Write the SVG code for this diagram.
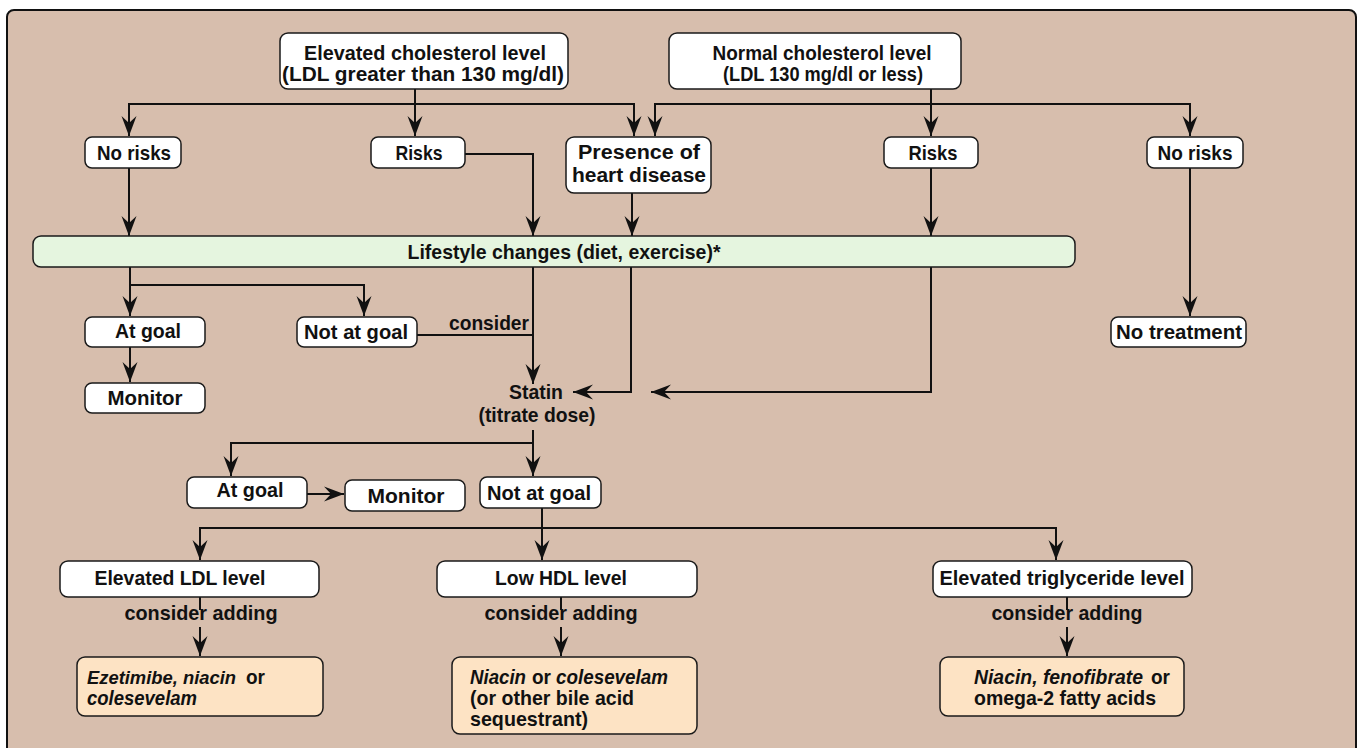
<svg xmlns="http://www.w3.org/2000/svg" width="1361" height="748" viewBox="0 0 1361 748">
<style>
text{font-family:"Liberation Sans Narrow","Liberation Sans",Arial,sans-serif;font-weight:bold;font-size:20.5px;fill:#111;}
.m{text-anchor:middle;}
.i{font-style:italic;}
.s{font-size:19.5px;}
.box{fill:#fff;stroke:#1a1a1a;stroke-width:1.5;}
.green{fill:#e5f5df;stroke:#1a1a1a;stroke-width:1.5;}
.orange{fill:#fde3c4;stroke:#1a1a1a;stroke-width:1.5;}
.c{fill:none;stroke:#111;stroke-width:2;}
.a{marker-end:url(#arr);}
</style>
<defs>
<marker id="arr" viewBox="-20 -9 21 18" refX="0" refY="0" markerWidth="21" markerHeight="18" markerUnits="userSpaceOnUse" orient="auto">
<path d="M0,0 L-20,-7.5 L-13,0 L-20,7.5 Z" fill="#111"/>
</marker>
</defs>
<rect x="7" y="10" width="1349" height="760" rx="7" fill="#d7bead" stroke="#111" stroke-width="2"/>
<g id="connectors">
<path class="c a" d="M415,89 V136"/>
<path class="c a" d="M415,104 H129 V136"/>
<path class="c a" d="M415,104 H634 V136"/>
<path class="c a" d="M931,89 V136"/>
<path class="c a" d="M931,104 H655 V136"/>
<path class="c a" d="M931,104 H1190 V136"/>
<path class="c a" d="M129,168 V236"/>
<path class="c a" d="M465,154 H533 V236"/>
<path class="c a" d="M632,193 V236"/>
<path class="c a" d="M931,168 V236"/>
<path class="c a" d="M1190,168 V316"/>
<path class="c a" d="M130,267 V316"/>
<path class="c a" d="M130,285 H364 V316"/>
<path class="c a" d="M130,347 V382"/>
<path class="c" d="M417,335 H533"/>
<path class="c a" d="M533,267 V384"/>
<path class="c a" d="M631,267 V392 H573"/>
<path class="c a" d="M931,267 V392 H651"/>
<path class="c a" d="M533,430 V476"/>
<path class="c a" d="M533,443 H231 V476"/>
<path class="c a" d="M307,494 H344"/>
<path class="c a" d="M542,508 V560"/>
<path class="c a" d="M542,528 H200 V560"/>
<path class="c a" d="M542,528 H1056 V560"/>
<path class="c" d="M200,597 V610"/>
<path class="c a" d="M200,627 V656"/>
<path class="c" d="M561,597 V610"/>
<path class="c a" d="M561,627 V656"/>
<path class="c" d="M1067,597 V610"/>
<path class="c a" d="M1067,627 V656"/>
</g>
<g id="elevated">
<rect class="box" x="280" y="33" width="288" height="56" rx="8"/>
<text class="m s" x="425" y="60" textLength="242" lengthAdjust="spacingAndGlyphs">Elevated cholesterol level</text>
<text class="m s" x="423" y="81" textLength="282" lengthAdjust="spacingAndGlyphs">(LDL greater than 130 mg/dl)</text>
</g>
<g id="normal">
<rect class="box" x="669" y="33" width="292" height="56" rx="8"/>
<text class="m s" x="822" y="60" textLength="219" lengthAdjust="spacingAndGlyphs">Normal cholesterol level</text>
<text class="m s" x="823" y="81" textLength="200" lengthAdjust="spacingAndGlyphs">(LDL 130 mg/dl or less)</text>
</g>
<g id="norisks1">
<rect class="box" x="85" y="137" width="96" height="31" rx="7"/>
<text class="m" x="134" y="160" textLength="74" lengthAdjust="spacingAndGlyphs">No risks</text>
</g>
<g id="risks1">
<rect class="box" x="371" y="137" width="94" height="31" rx="7"/>
<text class="m" x="419" y="160" textLength="47" lengthAdjust="spacingAndGlyphs">Risks</text>
</g>
<g id="heart">
<rect class="box" x="566" y="137" width="145" height="56" rx="8"/>
<text class="m s" x="639" y="159" textLength="122" lengthAdjust="spacingAndGlyphs">Presence of</text>
<text class="m s" x="639" y="182" textLength="134" lengthAdjust="spacingAndGlyphs">heart disease</text>
</g>
<g id="risks2">
<rect class="box" x="884" y="137" width="94" height="31" rx="7"/>
<text class="m" x="933" y="160" textLength="49" lengthAdjust="spacingAndGlyphs">Risks</text>
</g>
<g id="norisks2">
<rect class="box" x="1147" y="137" width="96" height="31" rx="7"/>
<text class="m" x="1195" y="160" textLength="75" lengthAdjust="spacingAndGlyphs">No risks</text>
</g>
<g id="lifestyle">
<rect class="green" x="33" y="236" width="1042" height="31" rx="8"/>
<text class="m" x="564" y="259" textLength="313" lengthAdjust="spacingAndGlyphs">Lifestyle changes (diet, exercise)*</text>
</g>
<g id="atgoal1">
<rect class="box" x="85" y="317" width="120" height="30" rx="7"/>
<text class="m" x="148" y="338" textLength="66" lengthAdjust="spacingAndGlyphs">At goal</text>
</g>
<g id="notatgoal1">
<rect class="box" x="297" y="317" width="120" height="30" rx="7"/>
<text class="m" x="356" y="339" textLength="104" lengthAdjust="spacingAndGlyphs">Not at goal</text>
</g>
<text id="consider" x="449" y="330" textLength="80" lengthAdjust="spacingAndGlyphs">consider</text>
<g id="monitor1">
<rect class="box" x="85" y="383" width="120" height="30" rx="7"/>
<text class="m" x="145" y="405" textLength="75" lengthAdjust="spacingAndGlyphs">Monitor</text>
</g>
<g id="notreatment">
<rect class="box" x="1111" y="317" width="135" height="30" rx="7"/>
<text class="m" x="1179" y="339" textLength="126" lengthAdjust="spacingAndGlyphs">No treatment</text>
</g>
<g id="statin">
<text class="m" x="536" y="399" textLength="54" lengthAdjust="spacingAndGlyphs">Statin</text>
<text class="m" x="537" y="422" textLength="117" lengthAdjust="spacingAndGlyphs">(titrate dose)</text>
</g>
<g id="atgoal2">
<rect class="box" x="187" y="477" width="120" height="31" rx="7"/>
<text class="m" x="250" y="497" textLength="67" lengthAdjust="spacingAndGlyphs">At goal</text>
</g>
<g id="monitor2">
<rect class="box" x="345" y="480" width="120" height="31" rx="7"/>
<text class="m" x="406" y="503" textLength="77" lengthAdjust="spacingAndGlyphs">Monitor</text>
</g>
<g id="notatgoal2">
<rect class="box" x="480" y="477" width="121" height="31" rx="7"/>
<text class="m" x="539" y="500" textLength="104" lengthAdjust="spacingAndGlyphs">Not at goal</text>
</g>
<g id="ldl">
<rect class="box" x="60" y="561" width="259" height="36" rx="8"/>
<text class="m" x="180" y="585" textLength="171" lengthAdjust="spacingAndGlyphs">Elevated LDL level</text>
<text class="m" x="201" y="620" textLength="153" lengthAdjust="spacingAndGlyphs">consider adding</text>
</g>
<g id="hdl">
<rect class="box" x="437" y="561" width="260" height="36" rx="8"/>
<text class="m" x="561" y="585" textLength="132" lengthAdjust="spacingAndGlyphs">Low HDL level</text>
<text class="m" x="561" y="620" textLength="153" lengthAdjust="spacingAndGlyphs">consider adding</text>
</g>
<g id="tg">
<rect class="box" x="933" y="561" width="259" height="36" rx="8"/>
<text class="m" x="1062" y="585" textLength="245" lengthAdjust="spacingAndGlyphs">Elevated triglyceride level</text>
<text class="m" x="1067" y="620" textLength="151" lengthAdjust="spacingAndGlyphs">consider adding</text>
</g>
<g id="ldlrx">
<rect class="orange" x="77" y="657" width="246" height="59" rx="8"/>
<text class="i" x="87" y="684" style="font-size:19px" textLength="149" lengthAdjust="spacingAndGlyphs">Ezetimibe, niacin</text>
<text x="246" y="684" textLength="19" lengthAdjust="spacingAndGlyphs">or</text>
<text class="i" x="87" y="705" textLength="110" lengthAdjust="spacingAndGlyphs">colesevelam</text>
</g>
<g id="hdlrx">
<rect class="orange" x="452" y="657" width="245" height="77" rx="8"/>
<text class="i" x="470" y="684" textLength="56" lengthAdjust="spacingAndGlyphs">Niacin</text>
<text x="532" y="684" textLength="19" lengthAdjust="spacingAndGlyphs">or</text>
<text class="i" x="556" y="684" textLength="112" lengthAdjust="spacingAndGlyphs">colesevelam</text>
<text x="470" y="705" textLength="164" lengthAdjust="spacingAndGlyphs">(or other bile acid</text>
<text x="470" y="726" textLength="118" lengthAdjust="spacingAndGlyphs">sequestrant)</text>
</g>
<g id="tgrx">
<rect class="orange" x="940" y="657" width="244" height="59" rx="8"/>
<text class="i" x="974" y="684" textLength="169" lengthAdjust="spacingAndGlyphs">Niacin, fenofibrate</text>
<text x="1151" y="684" textLength="19" lengthAdjust="spacingAndGlyphs">or</text>
<text x="974" y="705" textLength="182" lengthAdjust="spacingAndGlyphs">omega-2 fatty acids</text>
</g>
</svg>
